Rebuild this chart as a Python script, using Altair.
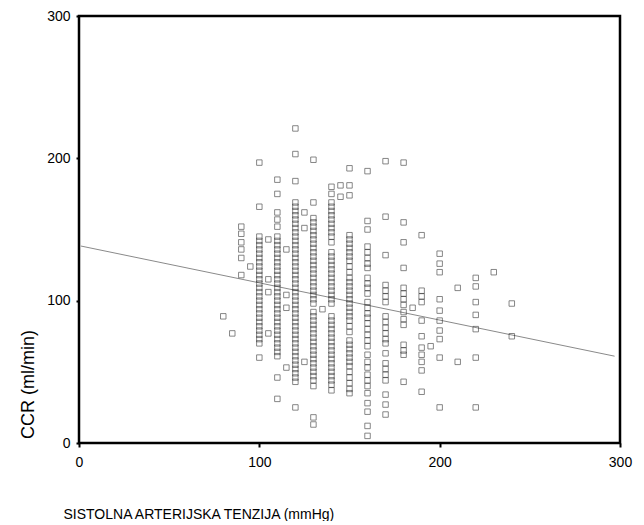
import altair as alt
import pandas as pd

# Systolic pressure columns (mmHg) and the CCR values (ml/min) read in each column
sbp_80 = [89]
sbp_85 = [77]
sbp_90 = [152, 147, 141, 136, 130, 118]
sbp_95 = [124]
sbp_100 = [197, 166, 145, 142, 139, 136, 133, 130, 127, 124, 121, 118, 115, 112, 109,
           106, 103, 100, 97, 94, 91, 88, 85, 82, 79, 76, 73, 70, 60]
sbp_105 = [143, 115, 106, 77]
sbp_110 = [185, 175, 162, 157, 152, 145, 142, 139, 136, 133, 130, 127, 124, 121, 118,
           115, 112, 109, 106, 103, 100, 97, 94, 91, 88, 85, 82, 79, 76, 73, 70, 67,
           64, 61, 46, 31]
sbp_115 = [136, 104, 95, 53]
sbp_120 = [221, 203, 184, 169, 166, 163, 160, 157, 154, 151, 148, 145, 142, 139, 136,
           133, 130, 127, 124, 121, 118, 115, 112, 109, 106, 103, 100, 97, 94, 91, 88,
           85, 82, 79, 76, 73, 70, 67, 64, 61, 58, 55, 52, 49, 46, 43, 25]
sbp_125 = [162, 151, 57]
sbp_130 = [199, 169, 158, 155, 152, 149, 146, 143, 140, 137, 134, 131, 128, 125, 122,
           119, 116, 113, 110, 107, 104, 101, 98, 92, 89, 86, 83, 80, 77, 74, 71, 68,
           65, 62, 59, 56, 53, 50, 47, 44, 40, 18, 13]
sbp_135 = [94]
sbp_140 = [180, 175, 169, 166, 163, 160, 157, 154, 151, 148, 145, 141, 134, 131, 128,
           125, 122, 119, 116, 113, 110, 107, 104, 101, 98, 89, 86, 83, 80, 77, 74, 71,
           68, 65, 62, 59, 56, 53, 50, 47, 44, 41, 37]
sbp_145 = [181, 173]
sbp_150 = [193, 181, 174, 146, 143, 140, 137, 134, 131, 128, 124, 120, 116, 113, 110,
           107, 104, 101, 98, 95, 92, 89, 86, 82, 78, 72, 69, 66, 63, 60, 57, 54, 50,
           46, 42, 38, 35]
sbp_160 = [191, 156, 150, 138, 134, 130, 126, 123, 116, 112, 109, 105, 99, 95, 91, 88,
           84, 80, 76, 72, 68, 62, 57, 53, 48, 44, 40, 35, 28, 22, 12, 5]
sbp_170 = [198, 159, 132, 111, 107, 103, 99, 89, 85, 81, 77, 73, 70, 63, 56, 52, 48,
           44, 34, 27, 20]
sbp_180 = [197, 155, 141, 123, 109, 105, 101, 97, 92, 87, 83, 69, 65, 62, 43]
sbp_185 = [95]
sbp_190 = [146, 107, 103, 99, 86, 75, 67, 62, 57, 51, 36]
sbp_195 = [68]
sbp_200 = [133, 126, 120, 101, 93, 86, 79, 73, 60, 25]
sbp_210 = [109, 57]
sbp_220 = [116, 110, 99, 90, 80, 60, 25]
sbp_230 = [120]
sbp_240 = [98, 75]

columns = [
    (80, sbp_80), (85, sbp_85), (90, sbp_90), (95, sbp_95), (100, sbp_100),
    (105, sbp_105), (110, sbp_110), (115, sbp_115), (120, sbp_120), (125, sbp_125),
    (130, sbp_130), (135, sbp_135), (140, sbp_140), (145, sbp_145), (150, sbp_150),
    (160, sbp_160), (170, sbp_170), (180, sbp_180), (185, sbp_185), (190, sbp_190),
    (195, sbp_195), (200, sbp_200), (210, sbp_210), (220, sbp_220), (230, sbp_230),
    (240, sbp_240),
]

# Fitted line endpoints
line_x = [1, 297]
line_y = [138.4, 61]

axis_ticks = [0, 100, 200, 300]

rows = [{"sbp": x, "ccr": y} for x, ys in columns for y in ys]
points_df = pd.DataFrame(rows)
line_df = pd.DataFrame({"sbp": line_x, "ccr": line_y})

FONT = "Liberation Sans"

xscale = alt.Scale(domain=[0, 300], nice=False, zero=False)
yscale = alt.Scale(domain=[0, 300], nice=False, zero=False)

x_axis = alt.Axis(
    title="SISTOLNA ARTERIJSKA TENZIJA (mmHg)",
    values=axis_ticks, grid=False, domain=False,
    ticks=True, tickSize=4, tickWidth=2, tickColor="black",
    labelFont=FONT, labelFontSize=14, labelColor="black", labelPadding=8,
    labelFlush=False,
    titleFont=FONT, titleFontSize=14, titleFontWeight="normal", titleColor="black",
    titleAnchor="start", titleAlign="left", titleBaseline="middle",
    titleX=-16, titleY=71,
)
y_axis = alt.Axis(
    title="CCR (ml/min)",
    values=axis_ticks, grid=False, domain=False,
    ticks=True, tickSize=3, tickWidth=2, tickColor="black",
    labelFont=FONT, labelFontSize=14, labelColor="black", labelPadding=6,
    labelFlush=False,
    titleFont=FONT, titleFontSize=18, titleFontWeight="normal", titleColor="black",
    titleAngle=270, titleAlign="center", titleBaseline="middle",
    titleX=-51, titleY=368,
)

pts = alt.Chart(points_df).mark_square(
    filled=False, size=30, stroke="#2a2a2a", strokeWidth=0.8
).encode(
    x=alt.X("sbp:Q", scale=xscale, axis=x_axis),
    y=alt.Y("ccr:Q", scale=yscale, axis=y_axis),
)

fit = alt.Chart(line_df).mark_line(color="#8a8a8a", strokeWidth=1).encode(
    x=alt.X("sbp:Q", scale=xscale),
    y=alt.Y("ccr:Q", scale=yscale),
)

chart = (
    alt.layer(fit, pts)
    .properties(
        width=541, height=427,
        autosize=alt.AutoSizeParams(type="none"),
        padding={"left": 71, "top": 8, "right": 16, "bottom": 78},
        background="white",
    )
    .configure_view(stroke="black", strokeWidth=2.5)
)

chart.save("out.html", embed_options={"renderer": "svg", "actions": False})
